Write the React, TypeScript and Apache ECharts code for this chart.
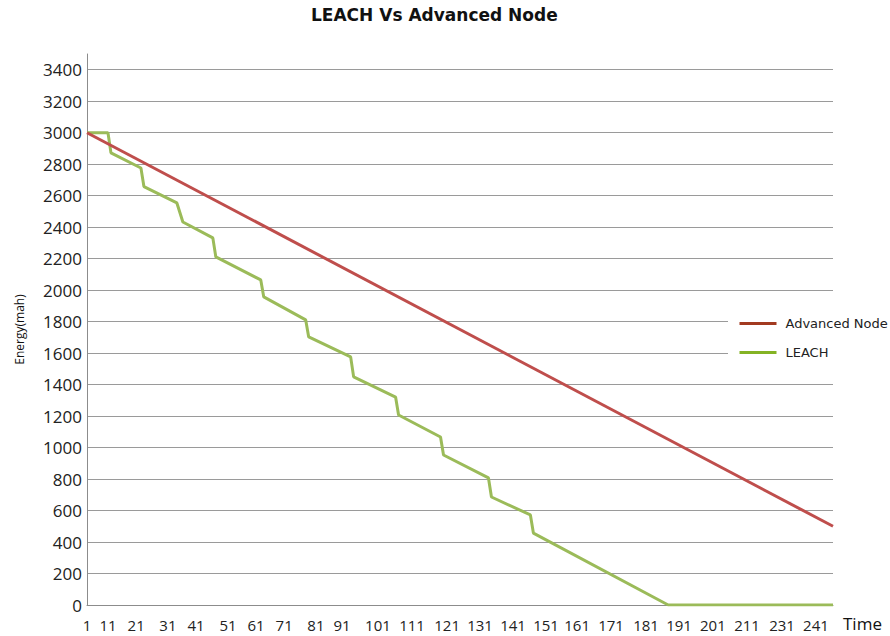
import React, { useEffect, useRef } from "react";
import * as echarts from "echarts";

// Time axis
const timeMin = 1;
const timeMax = 250;

// Advanced Node (linear discharge)
const advTime = [1, 250];
const advEnergy = [3000, 500];

// LEACH (stepped discharge)
const leachTime = [1, 8, 9, 19, 20, 31, 33, 43, 44, 59, 60, 74, 75, 89, 90, 104, 105, 119, 120, 135, 136, 149, 150, 195, 250];
const leachEnergy = [3000, 3000, 2872, 2776, 2658, 2554, 2433, 2332, 2211, 2065, 1957, 1811, 1703, 1576, 1449, 1321, 1207, 1067, 953, 807, 686, 572, 457, 0, 0];

// X tick labels as printed in the reference, and where they sit along the time axis
const xLabelText = ["1", "11", "21", "31", "41", "51", "61", "71", "81", "91", "101", "111", "121", "131", "141", "151", "161", "171", "181", "191", "201", "211", "231", "241"];
const xLabelAt = [1, 8, 17.4, 28, 37.4, 48.1, 57.4, 66.8, 77.4, 86.1, 98.1, 109.5, 121.2, 132.2, 143.2, 154.2, 164.6, 175.9, 187.6, 198.6, 209.9, 221.3, 233, 244.3];

// Y axis
const yMin = 0;
const yMax = 3500;
const yStep = 200;

const seriesNames = ["Advanced Node", "LEACH"];

export default function App() {
  const ref = useRef<HTMLDivElement>(null);

  useEffect(() => {
    document.body.style.margin = "0";
    const chart = echarts.init(ref.current!, null, { renderer: "svg" });
    const advData = advTime.map((t, i) => [t, advEnergy[i]]);
    const leachData = leachTime.map((t, i) => [t, leachEnergy[i]]);

    chart.setOption({
      animation: false,
      backgroundColor: "#ffffff",
      title: {
        text: "LEACH Vs Advanced Node",
        left: 311,
        top: 6,
        padding: 0,
        textStyle: {
          fontFamily: "DejaVu Sans",
          fontWeight: "bold",
          fontSize: 17,
          color: "#111111",
        },
      },
      legend: {
        orient: "vertical",
        left: 728,
        top: 309,
        padding: [8, 0, 8, 10],
        backgroundColor: "#ffffff",
        itemWidth: 37,
        itemHeight: 14,
        itemGap: 16,
        textStyle: {
          fontFamily: "DejaVu Sans",
          fontSize: 13,
          color: "#222222",
          padding: [0, 0, 0, 4],
        },
        data: [
          { name: seriesNames[0], itemStyle: { opacity: 0 }, lineStyle: { color: "#a23a20", width: 3 } },
          { name: seriesNames[1], itemStyle: { opacity: 0 }, lineStyle: { color: "#84b324", width: 3 } },
        ],
      },
      grid: { left: 87, right: 57, top: 54, bottom: 31 },
      xAxis: {
        type: "value",
        min: timeMin,
        max: timeMax,
        name: "Time",
        nameLocation: "end",
        nameGap: 10,
        nameTextStyle: {
          fontFamily: "Open Sans",
          fontSize: 17,
          color: "#111111",
          verticalAlign: "top",
          padding: [10, 0, 0, 0],
        },
        axisLine: { show: true, lineStyle: { color: "#8c8c8c", width: 1 } },
        axisTick: { show: false },
        splitLine: { show: false },
        axisLabel: {
          customValues: xLabelAt,
          margin: 12,
          fontFamily: "Open Sans",
          fontSize: 15,
          color: "#222222",
          formatter: (v: number) => {
            let best = 0;
            for (let i = 1; i < xLabelAt.length; i++) {
              if (Math.abs(xLabelAt[i] - v) < Math.abs(xLabelAt[best] - v)) best = i;
            }
            return xLabelText[best];
          },
        },
      },
      yAxis: {
        type: "value",
        min: yMin,
        max: yMax,
        interval: yStep,
        name: "Energy(mah)",
        nameLocation: "middle",
        nameGap: 62,
        nameTextStyle: {
          fontFamily: "Open Sans",
          fontSize: 12,
          color: "#111111",
        },
        axisLine: { show: true, lineStyle: { color: "#8c8c8c", width: 1 } },
        axisTick: { show: false },
        splitLine: { show: true, showMaxLine: false, lineStyle: { color: "#9a9a9a", width: 1 } },
        axisLabel: {
          showMaxLabel: false,
          margin: 5,
          fontFamily: "Open Sans",
          fontSize: 17,
          color: "#222222",
          formatter: (v: number) => String(v),
        },
      },
      series: [
        {
          name: seriesNames[0],
          type: "line",
          symbol: "none",
          data: advData,
          lineStyle: { color: "#bf4e4c", width: 3 },
          itemStyle: { color: "#bf4e4c" },
          z: 3,
        },
        {
          name: seriesNames[1],
          type: "line",
          symbol: "none",
          data: leachData,
          lineStyle: { color: "#9bbb59", width: 3 },
          itemStyle: { color: "#9bbb59" },
          z: 2,
        },
      ],
    });

    return () => chart.dispose();
  }, []);

  return <div ref={ref} style={{ width: 890, height: 636 }} />;
}
